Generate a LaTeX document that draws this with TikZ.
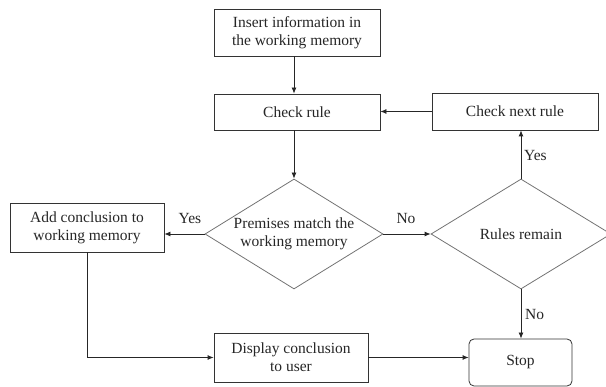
\documentclass[tikz,border=0pt]{standalone}
\usepackage{fontspec}
\setmainfont{Liberation Serif}
\usetikzlibrary{shapes.geometric,arrows.meta}
\begin{document}
\begin{tikzpicture}[x=1pt,y=-1pt,
  every node/.style={font=\fontsize{15.5}{18}\selectfont, text=black!85},
  boxnode/.style={draw=black!80, line width=0.8pt, rectangle, inner sep=0pt, align=center},
  decision/.style={draw=black!55, line width=0.8pt, diamond, inner sep=0pt, align=center},
  lbl/.style={inner sep=1pt},
  conn/.style={draw=black!85, line width=0.8pt, -{Latex[length=6pt,width=5pt]}},
  plain/.style={draw=black!85, line width=0.8pt}]
\useasboundingbox (0,0) rectangle (606,387);
\node[boxnode, minimum width=166pt, minimum height=47pt] (insert) at (297,32.5) {Insert information in\\the working memory};
\node[boxnode, minimum width=166pt, minimum height=36pt] (check) at (297,112) {Check rule};
\node[boxnode, minimum width=166pt, minimum height=37pt] (next) at (515,111.5) {Check next rule};
\node[decision, minimum width=178pt, minimum height=110pt, aspect=1.618] (d1) at (294,234) {Premises match the\\working memory};
\node[decision, minimum width=180pt, minimum height=110pt, aspect=1.636] (d2) at (521,234) {Rules remain};
\node[boxnode, minimum width=154pt, minimum height=49pt] (add) at (87,227.5) {Add conclusion to\\working memory};
\node[boxnode, minimum width=154pt, minimum height=49pt] (display) at (291,357.5) {Display conclusion\\to user};
\node[boxnode, rounded corners=5pt, minimum width=103pt, minimum height=47pt] (stop) at (520.5,362.5) {Stop};
\draw[conn] (insert.south -| d1.north) -- (check.north -| d1.north);
\draw[conn] (next.west) -- (next.west -| check.east);
\draw[conn] (check.south -| d1.north) -- (d1.north);
\draw[conn] (d1.west) -- (d1.west -| add.east);
\draw[conn] (d1.east) -- (d2.west);
\draw[conn] (d2.north) -- (d2.north |- next.south);
\draw[conn] (d2.south) -- (d2.south |- stop.north);
\draw[conn] (add.south) |- (display.west);
\draw[conn] (display.east) -- (display.east -| stop.west);
\node[lbl] (yes1) at (190,219) {Yes};
\node[lbl] (no1) at (406,219) {No};
\node[lbl, anchor=west] (yes2) at (523,156) {Yes};
\node[lbl, anchor=west] (no2) at (524,315) {No};
\end{tikzpicture}
\end{document}
